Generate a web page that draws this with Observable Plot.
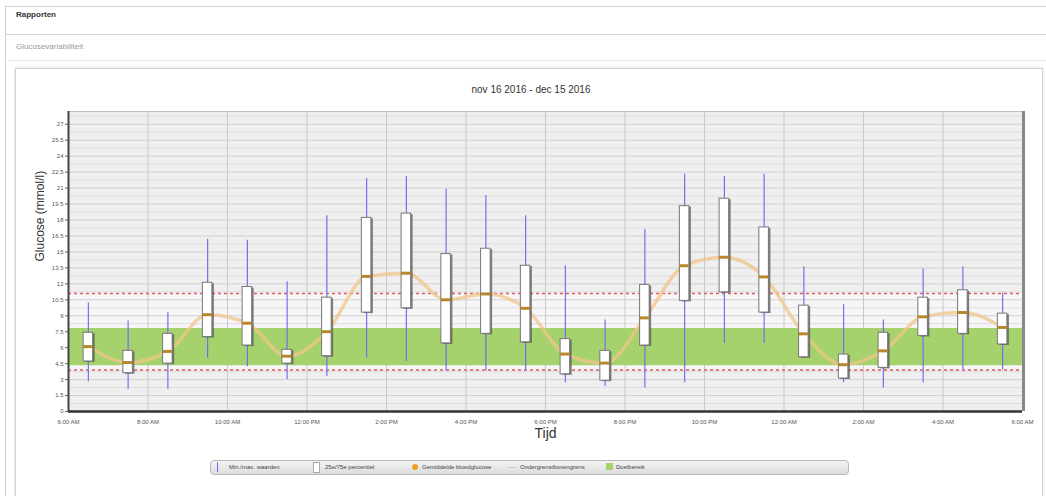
<!DOCTYPE html>
<html><head><meta charset="utf-8">
<script src="https://cdn.jsdelivr.net/npm/d3@7"></script>
<script src="https://cdn.jsdelivr.net/npm/@observablehq/plot@0.6"></script>
<style>
html,body{margin:0;padding:0;background:#fff}
body{width:1046px;height:496px;overflow:hidden;position:relative;font-family:"Liberation Sans",Arial,sans-serif}
.abs{position:absolute}
#outer{left:5px;top:6px;width:1060px;height:520px;border-left:1px solid #cfcfcf;border-top:1px solid #cfcfcf}
#hdrline{left:5px;top:34px;width:1041px;height:0;border-top:1px solid #d6d6d6}
#hdr{left:16px;top:10px;font-size:8px;font-weight:bold;color:#333}
#sub{left:16px;top:42px;font-size:8px;color:#9a9a9a}
#subline{left:5px;top:60px;width:1041px;border-top:1px solid #ececec}
#panel{left:15px;top:68px;width:1026px;height:460px;border:1px solid #d2d2d2;box-shadow:0 0 3px #ddd}
#title{left:331px;top:84px;width:400px;text-align:center;font-size:10px;color:#333}
#chart{left:0;top:105px}
#legend{left:210px;top:460px;width:637px;height:13px;border:1px solid #b9b9b9;border-radius:4px;background:linear-gradient(#f4f4f4,#dcdcdc);font-size:6px;color:#444}
.li{position:absolute;top:3px;white-space:nowrap}
</style></head><body>
<div class="abs" id="outer"></div>
<div class="abs" id="hdr">Rapporten</div>
<div class="abs" id="hdrline"></div>
<div class="abs" id="sub">Glucosevariabiliteit</div>
<div class="abs" id="subline"></div>
<div class="abs" id="panel"></div>
<div class="abs" id="title">nov 16 2016 - dec 15 2016</div>
<div class="abs" id="chart"></div>
<div class="abs" id="legend"></div>
<script>
// hour slots (hours after 6:00 AM, centre of each hourly bin)
const slotHour = [0.5,1.5,2.5,3.5,4.5,5.5,6.5,7.5,8.5,9.5,10.5,11.5,12.5,13.5,14.5,15.5,16.5,17.5,18.5,19.5,20.5,21.5,22.5,23.5];
const minVals    = [2.8,2.1,2.1,5.0,4.2,3.0,3.3,5.0,4.7,3.8,3.8,3.8,2.7,2.35,2.2,2.7,6.4,6.4,5.0,2.7,2.2,2.7,3.9,3.9];
const q1Vals     = [4.7,3.6,4.5,7.0,6.2,4.5,5.2,9.3,9.7,6.4,7.3,6.5,3.5,2.9,6.2,10.4,11.2,9.3,5.1,3.1,4.1,7.1,7.3,6.3];
const medianVals = [6.1,4.6,5.65,9.1,8.3,5.2,7.5,12.7,13.0,10.5,11.05,9.7,5.4,4.55,8.8,13.7,14.5,12.65,7.3,4.4,5.7,8.9,9.3,7.9];
const q3Vals     = [7.4,5.7,7.3,12.1,11.7,5.8,10.7,18.2,18.6,14.8,15.3,13.7,6.8,5.7,11.9,19.3,20.0,17.3,9.95,5.35,7.4,10.7,11.4,9.2];
const maxVals    = [10.2,8.5,9.3,16.2,16.1,12.2,18.4,21.9,22.1,20.9,20.3,18.4,13.7,8.6,17.1,22.3,22.1,22.3,13.6,10.05,8.6,13.4,13.6,11.15];

const xTickHours  = [0,2,4,6,8,10,12,14,16,18,20,22,24];
const xTickLabels = ["6:00 AM","8:00 AM","10:00 AM","12:00 PM","2:00 PM","4:00 PM","6:00 PM","8:00 PM","10:00 PM","12:00 AM","2:00 AM","4:00 AM","6:00 AM"];
const yTicks = [0,1.5,3,4.5,6,7.5,9,10.5,12,13.5,15,16.5,18,19.5,21,22.5,24,25.5,27];
const yMinorGrid = [0.75,2.25,3.75,5.25,6.75,8.25,9.75,11.25,12.75,14.25,15.75,17.25,18.75,20.25,21.75,23.25,24.75,26.25,27.75];
const targetRange = [{lo:4.3, hi:7.8}];
const limitLines = [3.9, 11.1];
const yMax = 28.2;

const legendItems = ["Min./max. waarden","25e/75e percentiel","Gemiddelde bloedglucose","Ondergrens/bovengrens","Doelbereik"];

const data = slotHour.map((h,i)=>({h, min:minVals[i], q1:q1Vals[i], med:medianVals[i], q3:q3Vals[i], max:maxVals[i]}));
const halfW = 0.12;

const chart = Plot.plot({
  width:1046, height:346,
  marginTop:6, marginBottom:40, marginLeft:68, marginRight:24,
  style:{fontFamily:"'Liberation Sans',Arial,sans-serif", fontSize:"6px", color:"#555", background:"transparent"},
  x:{domain:[0,24], label:null},
  y:{domain:[0,yMax], label:null},
  marks:[
    Plot.frame({fill:"#efefef"}),
    Plot.rect(targetRange,{x1:0,x2:24,y1:()=>limitLines[0],y2:()=>limitLines[1],fill:"#f6f6f9"}),
    Plot.ruleY(yMinorGrid,{stroke:"#dedede",strokeWidth:1}),
    Plot.ruleY(yTicks,{stroke:"#d0d0d0",strokeWidth:1}),
    Plot.ruleX(xTickHours,{stroke:"#c9c9c9",strokeWidth:1}),
    Plot.rect(targetRange,{x1:0,x2:24,y1:"lo",y2:"hi",fill:"#a5d26c"}),
    Plot.ruleY(limitLines,{stroke:"#e35a5a",strokeWidth:1.5,strokeDasharray:"3,3"}),
    Plot.ruleX(data,{x:"h",y1:"min",y2:"max",stroke:"#7171f0",strokeWidth:1.2}),
    Plot.line(data,{x:"h",y:"med",curve:"monotone-x",stroke:"#f0c58a",strokeWidth:3.5,strokeOpacity:0.75}),
    Plot.rect(data,{x1:d=>d.h-halfW,x2:d=>d.h+halfW,y1:"q1",y2:"q3",fill:"#555",fillOpacity:0.75,dx:2,dy:1}),
    Plot.rect(data,{x1:d=>d.h-halfW,x2:d=>d.h+halfW,y1:"q1",y2:"q3",fill:"#fff",stroke:"#777",strokeWidth:1}),
    Plot.ruleY(data,{y:"med",x1:d=>d.h-halfW,x2:d=>d.h+halfW,stroke:"#b8862b",strokeWidth:3}),
    Plot.ruleY([yMax],{stroke:"#bdbdbd"}),
    Plot.ruleX([24],{stroke:"#888",strokeWidth:3,dx:1}),
    Plot.ruleX([0],{stroke:"#444",strokeWidth:2}),
    Plot.ruleY([0],{stroke:"#333",strokeWidth:2.5}),
    Plot.axisY({ticks:yTicks,tickFormat:d=>String(d),tickSize:3,tickPadding:2,fontSize:6,label:null,stroke:"#666"}),
    Plot.axisX({ticks:xTickHours,tickFormat:(d)=>xTickLabels[xTickHours.indexOf(d)],tickSize:0,tickPadding:8,fontSize:6,label:null}),
    Plot.text(["Glucose (mmol/l)"],{frameAnchor:"left",rotate:-90,dx:-28,fontSize:12,fill:"#333"}),
    Plot.text(["Tijd"],{frameAnchor:"bottom",dy:26,fontSize:14,fill:"#333"})
  ]
});
document.getElementById("chart").appendChild(chart);

// legend
const lg = document.getElementById("legend");
const iconX = [6,102,201,297,395];
const textX = [18,114,211,309,405];
legendItems.forEach((t,i)=>{
  const ic = document.createElement("div");
  ic.style.position="absolute";
  if(i===0){Object.assign(ic.style,{left:iconX[i]+"px",top:"1px",width:"1px",height:"10px",background:"#6b6bf2"});}
  if(i===1){Object.assign(ic.style,{left:iconX[i]+"px",top:"1px",width:"5px",height:"9px",background:"#fff",border:"1px solid #aaa"});}
  if(i===2){Object.assign(ic.style,{left:iconX[i]+"px",top:"3px",width:"6px",height:"6px",borderRadius:"3px",background:"#f0a020"});}
  if(i===3){Object.assign(ic.style,{left:iconX[i]+"px",top:"6px",width:"8px",height:"1px",background:"#c8c8c8"});}
  if(i===4){Object.assign(ic.style,{left:iconX[i]+"px",top:"2px",width:"7px",height:"7px",background:"#a5d26c"});}
  lg.appendChild(ic);
  const tx = document.createElement("div");
  tx.className="li"; tx.style.left=textX[i]+"px"; tx.textContent=t;
  lg.appendChild(tx);
});
</script>
</body></html>
